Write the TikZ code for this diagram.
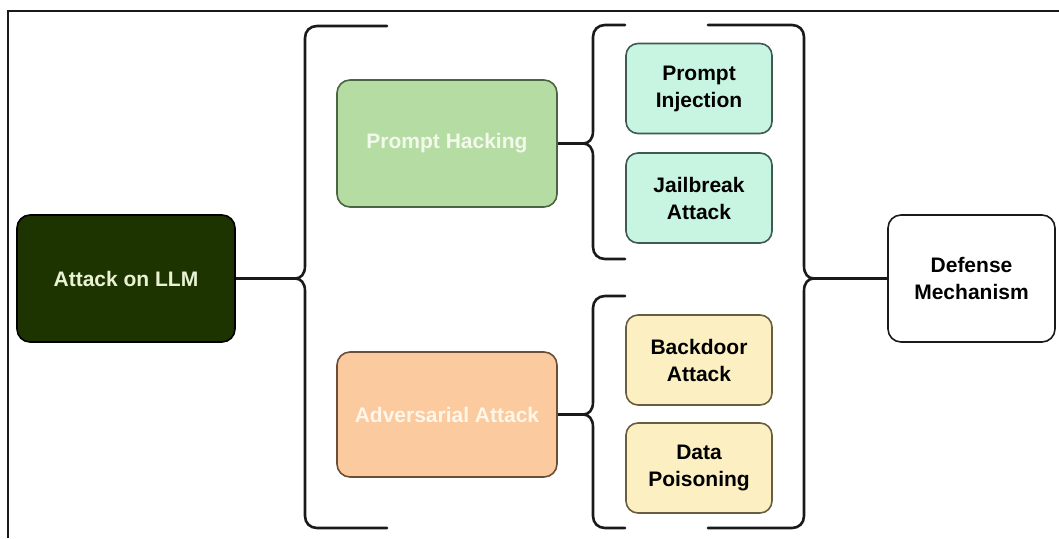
\documentclass[tikz,border=0pt]{standalone}
\usepackage{fontspec}
\setmainfont{Liberation Sans}
\definecolor{atkfill}{HTML}{1D3300}
\definecolor{atktext}{HTML}{E9F3D4}
\definecolor{phfill}{HTML}{B5DCA3}
\definecolor{phdraw}{HTML}{4C6444}
\definecolor{phtext}{HTML}{F3FAEC}
\definecolor{adfill}{HTML}{FBCA9E}
\definecolor{addraw}{HTML}{6A4E38}
\definecolor{adtext}{HTML}{FFF6EA}
\definecolor{mintfill}{HTML}{C8F5E2}
\definecolor{mintdraw}{HTML}{3E5A52}
\definecolor{yelfill}{HTML}{FCF0C3}
\definecolor{yeldraw}{HTML}{6A5E40}
\definecolor{linec}{HTML}{1A1A1A}
\begin{document}
\begin{tikzpicture}[x=1pt,y=-1pt,
  box/.style={rounded corners=13pt, line width=1.6pt, inner sep=0pt, align=center,
    font=\fontsize{21}{27}\selectfont\bfseries},
  leaf/.style={box, minimum width=146pt, minimum height=90pt, rounded corners=12pt},
  brace/.style={line width=2.6pt, draw=linec, line cap=round},
  conn/.style={line width=2.6pt, draw=linec}
]
\useasboundingbox (0,0) rectangle (1059,538);
\fill[white] (0,0) rectangle (1059,538);
% frame
\draw[line width=1.3pt, draw=linec] (8,538) -- (8,11) -- (1059,11);

% nodes
\node[box, fill=atkfill, draw=black, text=atktext, minimum width=218pt, minimum height=127pt] (atk) at (126,278.5) {Attack on LLM};
\node[box, fill=phfill, draw=phdraw, text=phtext, minimum width=220pt, minimum height=127pt] (ph) at (447,143.5) {Prompt Hacking};
\node[box, fill=adfill, draw=addraw, text=adtext, minimum width=220pt, minimum height=125pt] (ad) at (447,414.5) {Adversarial Attack};
\node[leaf, fill=mintfill, draw=mintdraw] (pi) at (699,88.5) {Prompt\\Injection};
\node[leaf, fill=mintfill, draw=mintdraw] (ja) at (699,198) {Jailbreak\\Attack};
\node[leaf, fill=yelfill, draw=yeldraw] (ba) at (699,360) {Backdoor\\Attack};
\node[leaf, fill=yelfill, draw=yeldraw] (dp) at (699,468) {Data\\Poisoning};
\node[box, fill=white, draw=linec, minimum width=167pt, minimum height=127pt] (def) at (971.5,278.5) {Defense\\Mechanism};

% brace tips
\coordinate (lbt) at (295,278.5);
\coordinate (sbt1) at (583,143.5);
\coordinate (sbt2) at (583,414.5);
\coordinate (rbt) at (814,278.5);

% left big brace
\draw[brace] (387,26) -- (317,26) .. controls (310,26) and (305,31) .. (305,38)
  -- (305,266) .. controls (305,274) and (301,278.5) .. (lbt)
  .. controls (301,278.5) and (305,283) .. (305,291)
  -- (305,516) .. controls (305,523) and (310,528) .. (317,528) -- (387,528);
% small brace 1
\draw[brace] (625,25) -- (605,25) .. controls (598,25) and (593,30) .. (593,37)
  -- (593,131) .. controls (593,139) and (589,143.5) .. (sbt1)
  .. controls (589,143.5) and (593,148) .. (593,156)
  -- (593,247) .. controls (593,254) and (598,259) .. (605,259) -- (625,259);
% small brace 2
\draw[brace] (625,296) -- (605,296) .. controls (598,296) and (593,301) .. (593,308)
  -- (593,402) .. controls (593,410) and (589,414.5) .. (sbt2)
  .. controls (589,414.5) and (593,419) .. (593,427)
  -- (593,516) .. controls (593,523) and (598,528) .. (605,528) -- (625,528);
% right big brace
\draw[brace] (708,25) -- (792,25) .. controls (799,25) and (804,30) .. (804,37)
  -- (804,266) .. controls (804,274) and (808,278.5) .. (rbt)
  .. controls (808,278.5) and (804,283) .. (804,291)
  -- (804,516) .. controls (804,523) and (799,528) .. (792,528) -- (708,528);

% connectors
\draw[conn] (atk.east) -- (lbt);
\draw[conn] (ph.east) -- (sbt1);
\draw[conn] (ad.east) -- (sbt2);
\draw[conn] (rbt) -- (def.west);
\end{tikzpicture}
\end{document}
